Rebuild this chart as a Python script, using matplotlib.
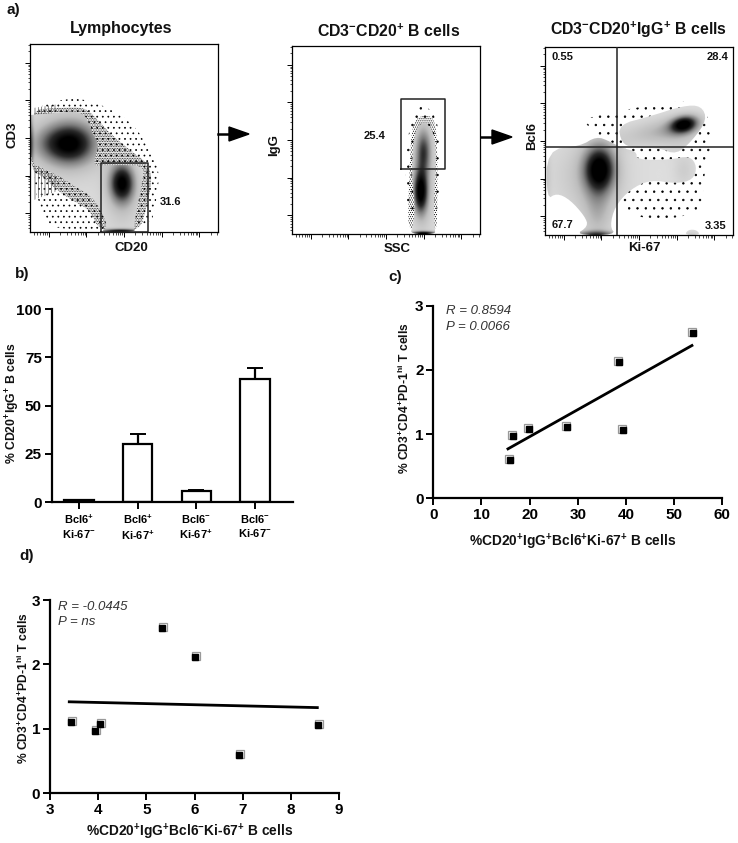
import numpy as np
import matplotlib
matplotlib.use('Agg')
import matplotlib.pyplot as plt
from matplotlib.colors import LinearSegmentedColormap
from matplotlib.patches import Polygon, PathPatch
from matplotlib.path import Path
from matplotlib.transforms import offset_copy

plt.rcParams['font.family'] = ['Liberation Sans', 'DejaVu Sans']
plt.rcParams['mathtext.fontset'] = 'custom'
plt.rcParams['mathtext.rm'] = 'Liberation Sans'
plt.rcParams['mathtext.bf'] = 'Liberation Sans:bold'
plt.rcParams['mathtext.it'] = 'Liberation Sans:italic'
plt.rcParams['hatch.linewidth'] = 0.5

W, H = 738, 843

# Flow populations: x, y, sx, sy, tilt (deg), peak (axes percent)
lymph_pops = [(22, 47, 9, 7.5, 0, 0.8), (10, 47, 9, 7, 0, 0.25), (22, 47, 15, 15, 0, 0.18),
              (49, 26, 4.5, 7, 0, 0.9), (49, 18, 7, 14, 0, 0.18), (48, 0, 8, 1.0, 0, 1.0),
              (0.3, 45, 1.0, 15, 0, 0.4)]
igg_pops = [(70, 44, 2.8, 8, 0, 0.55), (68.5, 22.5, 2.6, 8, 0, 0.95), (70, 30, 4.5, 24, 0, 0.2),
            (70, 0, 5, 0.9, 0, 1.0)]
bcl6_pops = [(29, 35, 5.5, 8, 0, 0.95), (27, 30, 11, 16, 0, 0.22), (12, 32, 14, 12, 0, 0.05),
             (28, 12, 5, 12, 0, 0.2), (27, 0, 8, 1.5, 0, 0.6), (74, 58.6, 5, 3, 12, 0.95),
             (62, 55, 15, 4.5, 10, 0.25), (72, 52, 9, 6, 0, 0.12), (74, 34, 4, 6, 0, 0.12),
             (1, 30, 1.5, 14, 0, 0.12), (78, 0, 3, 1.2, 0, 0.12)]

# Outlines of the grey density and of the dot clouds around it
lymph_grey = [[(0.4, 62.3), (12.4, 63.2), (25.7, 64.4), (30.4, 60.5), (32.7, 53.4), (36.8, 46.3), (34.5, 40),
               (34.2, 35), (38, 35.6), (58.4, 35.6), (60.5, 32.9), (59.8, 26.7), (54.9, 2.7), (56.5, 0), (37, 0),
               (41.6, 2.7), (37.2, 12.5), (31.9, 19.6), (25.7, 23.1), (15.9, 29.4), (7.1, 33.8), (0, 36.5), (0, 62)]]
lymph_near = [(0, 65), (12.4, 65.8), (28.3, 66.7), (34.5, 61.4), (42.5, 52.5), (53.1, 43.6), (62.8, 36.5), (65, 27.6),
              (62, 13.3), (58.4, 0), (37.2, 0), (31.9, 11.6), (23.9, 16), (14.2, 22.2), (7.1, 29.4), (0, 32.9)]
lymph_far = [(15.9, 70.3), (26.5, 71.2), (40.7, 66.7), (54.9, 57.8), (63.7, 43.6), (69, 32.9), (67.3, 16.9),
             (63.7, 0.9), (10.6, 0.9), (7.1, 9.8), (1.8, 24), (1.8, 66)]
lymph_stripes = [[(2, 62), (15, 64), (15, 68), (2, 66)], [(2, 35), (15, 29), (15, 22), (2, 17)]]

igg_grey = [[(70, 59.8), (74.3, 56.2), (76.5, 48.2), (76.5, 32.3), (75.2, 14.5), (76.1, 2.1), (76.1, 0), (62.8, 0),
             (64.2, 3.9), (65.5, 14.5), (63.7, 28.7), (64.2, 46.5), (66, 56.2)]]
igg_near = [(70, 63.3), (75.6, 62), (77.3, 50), (77.3, 11), (76.6, 0), (61.9, 0), (61.9, 18), (62.5, 32.3), (63.2, 50), (65, 60.6)]
igg_far = [(70, 68.6), (76, 64), (79, 50), (78, 5), (62, 5), (60, 30), (62, 55), (65, 66)]

bcl6_grey = [[(0.9, 45.4), (18.6, 47.2), (27.4, 52.5), (34.5, 49.8), (40.7, 46.3), (48.7, 44.5), (48.7, 40), (66.4, 40),
              (77, 42.2), (80.9, 36.5), (78.8, 29.4), (69.9, 27.3), (55.8, 29.4), (45.1, 24.1), (37.2, 15.2), (34.5, 4.6),
              (37.7, 0), (15.9, 0), (23, 4.6), (21.2, 9.9), (13.3, 18.8), (6.2, 22.3), (0.9, 18.8)],
             [(38.9, 58.7), (55.8, 63.1), (73.5, 68.8), (83.2, 68.8), (86.2, 61.3), (78.8, 50.7), (69.9, 42.7), (61, 46.3),
              (46.9, 46.3), (40.7, 48.9)],
             [(74.3, 0), (76.1, 2.8), (80.5, 2.8), (82.7, 0)]]
bcl6_far = [(20, 62), (40, 66), (60, 70), (82, 72), (90, 55), (84, 30), (84, 10), (45, 8), (37, 25), (45, 35), (38, 47), (25, 55)]

# Gates
lymph_gate = (37.5, 63, 0, 36.8)
igg_gate = (58, 81.4, 34.4, 71.6)
bcl6_split = (38.2, 47)

# Panel b
b_labels = ['$\\mathbf{Bcl6^{+}}$\n$\\mathbf{Ki}$-$\\mathbf{67^{-}}$', '$\\mathbf{Bcl6^{+}}$\n$\\mathbf{Ki}$-$\\mathbf{67^{+}}$',
            '$\\mathbf{Bcl6^{-}}$\n$\\mathbf{Ki}$-$\\mathbf{67^{+}}$', '$\\mathbf{Bcl6^{-}}$\n$\\mathbf{Ki}$-$\\mathbf{67^{-}}$']
b_vals = [0.8, 30, 5.5, 64]
b_err = [0.3, 5.5, 0.8, 5.5]

# Panel c
c_x = [16, 16.5, 19.8, 27.7, 38.6, 39.3, 54]
c_y = [0.6, 0.97, 1.08, 1.11, 2.12, 1.06, 2.57]
c_fit_x = [15.5, 53.7]
c_fit_y = [0.77, 2.38]

# Panel d
d_x = [3.43, 3.93, 4.04, 5.32, 6.0, 6.92, 8.56]
d_y = [1.11, 0.97, 1.08, 2.57, 2.12, 0.6, 1.06]
d_fit_x = [3.4, 8.55]
d_fit_y = [1.42, 1.33]

fig = plt.figure(figsize=(W/100, H/100), dpi=100)
grey_map = LinearSegmentedColormap.from_list('flow', ['#dedede', '#bdbdbd', '#7e7e7e', '#2a2a2a', '#000000'])


def px_axes(left, right, top, bottom):
    return fig.add_axes([left/W, 1-bottom/H, (right-left)/W, (bottom-top)/H])


def label(x, y, s, size=8, rotation=0, weight='bold', style='normal', ha='center', color='#111111'):
    fig.text(x/W, 1-y/H, s, fontsize=size, rotation=rotation, fontweight=weight, fontstyle=style,
             ha=ha, va='center', color=color)


def smooth(points, rounds=2):
    # corner cutting so the outlines are not angular
    p = np.array(points, dtype=float)
    for i in range(rounds):
        q = np.roll(p, -1, axis=0)
        p = np.column_stack([0.75*p + 0.25*q, 0.25*p + 0.75*q]).reshape(-1, 2)
    return p


def density(pops):
    xx, yy = np.meshgrid(np.linspace(0, 100, 400), np.linspace(0, 100, 400))
    z = np.zeros_like(xx)
    for cx, cy, sx, sy, tilt, peak in pops:
        a = np.radians(tilt)
        u = (xx-cx)*np.cos(a) + (yy-cy)*np.sin(a)
        v = -(xx-cx)*np.sin(a) + (yy-cy)*np.cos(a)
        z += peak*np.exp(-0.5*(u/sx)**2 - 0.5*(v/sy)**2)
    return z


def flow_panel(left, right, top, bottom, pops, grey, clouds):
    ax = px_axes(left, right, top, bottom)
    for outline, pattern in clouds:
        ax.add_patch(Polygon(smooth(outline), closed=True, facecolor='none', edgecolor='k', hatch=pattern, lw=0, zorder=1))
    verts, codes = [], []
    for outline in grey:
        p = smooth(outline)
        verts += list(p) + [p[0]]
        codes += [Path.MOVETO] + [Path.LINETO]*(len(p)-1) + [Path.CLOSEPOLY]
    clip = PathPatch(Path(verts, codes), facecolor='none', edgecolor='none', transform=ax.transData)
    ax.add_patch(clip)
    im = ax.imshow(density(pops), origin='lower', extent=(0, 100, 0, 100), cmap=grey_map, vmin=0, vmax=1.0,
                   aspect='auto', interpolation='bilinear', zorder=2)
    im.set_clip_path(clip)
    # logicle style ticks, one major per decade
    majors = [10, 30, 50, 70, 90]
    minors = [m - 20 + 20*np.log10(k) for m in majors + [110] for k in range(2, 10)]
    minors = [m for m in minors if 0 < m < 100]
    for axis in (ax.xaxis, ax.yaxis):
        axis.set_ticks(majors)
        axis.set_ticks(minors, minor=True)
        axis.set_ticklabels([])
    ax.tick_params(which='major', length=3.5, width=0.7, direction='out')
    ax.tick_params(which='minor', length=1.8, width=0.5, direction='out')
    ax.set_xlim(0, 100)
    ax.set_ylim(0, 100)
    for s in ax.spines.values():
        s.set_linewidth(0.9)
    return ax


def gate(ax, x0, x1, y0, y1):
    ax.plot([x0, x0, x1, x1, x0], [y0, y1, y1, y0, y0], color='#222222', lw=1.1, zorder=5, clip_on=False)


def arrow(x0, x1, y):
    fig.add_artist(plt.Line2D([x0/W, (x1-18)/W], [1-y/H, 1-y/H], color='k', lw=1.8))
    fig.add_artist(plt.Polygon([[(x1-20)/W, 1-(y-7)/H], [x1/W, 1-y/H], [(x1-20)/W, 1-(y+7)/H]],
                               closed=True, color='k', transform=fig.transFigure))


def prism_axes(ax):
    for s in ('top', 'right'):
        ax.spines[s].set_visible(False)
    for s in ('left', 'bottom'):
        ax.spines[s].set_linewidth(1.6)
    ax.tick_params(width=1.4, length=5, labelsize=11, pad=2)
    for t in ax.get_xticklabels() + ax.get_yticklabels():
        t.set_fontweight('bold')


def scatter_fit(ax, x, y, fit_x, fit_y, off):
    ghost = offset_copy(ax.transData, fig=fig, x=off[0], y=off[1], units='dots')
    ax.plot(x, y, 's', ms=5.6, mfc='white', mec='#999999', mew=0.9, transform=ghost, clip_on=False, zorder=3)
    ax.plot(x, y, 's', ms=5, color='k', clip_on=False, zorder=4)
    ax.plot(fit_x, fit_y, color='k', lw=2, zorder=5)


# a) flow plots
ax1 = flow_panel(30, 218, 44, 232, lymph_pops, lymph_grey,
                 [(lymph_far, '...'), (lymph_near, '..........')])
for strip in lymph_stripes:
    ax1.add_patch(Polygon(strip, closed=True, facecolor='none', edgecolor='#555555', hatch='|||||', lw=0, zorder=1))
gate(ax1, *lymph_gate)

ax2 = flow_panel(292, 480, 46, 234, igg_pops, igg_grey,
                 [(igg_far, '..'), (igg_near, '........')])
gate(ax2, *igg_gate)

ax3 = flow_panel(545, 733, 47, 235, bcl6_pops, bcl6_grey, [(bcl6_far, '..')])
ax3.axvline(bcl6_split[0], color='#222222', lw=1.1, zorder=5)
ax3.axhline(bcl6_split[1], color='#222222', lw=1.1, zorder=5)

arrow(218, 249, 134)
arrow(481, 512, 137)

label(13, 10, 'a)', 11)
label(121, 28, 'Lymphocytes', 11.5)
label(12, 135, 'CD3', 9.5, 90)
label(131, 248, 'CD20', 9.5)
label(171, 202, '31.6', 8)
label(389, 31, '$\\mathbf{CD3^{-}CD20^{+}\\ B\\ cells}$', 11.4)
label(274, 145, 'IgG', 9.5, 90)
label(397, 249, 'SSC', 9.5)
label(375, 136, '25.4', 8)
label(638, 30, '$\\mathbf{CD3^{-}CD20^{+}IgG^{+}\\ B\\ cells}$', 11.4)
label(532, 136, 'Bcl6', 9.5, 90)
label(644, 248, 'Ki-67', 9.5)
label(562, 57, '0.55', 8)
label(718, 57, '28.4', 8)
label(563, 225, '67.7', 8)
label(716, 226, '3.35', 8)

# b) bars
axb = px_axes(51.7, 293, 309.3, 502)
axb.bar(range(4), b_vals, width=0.5, color='white', edgecolor='k', linewidth=1.6, zorder=2)
axb.errorbar(range(4), b_vals, yerr=[[0]*4, b_err], fmt='none', ecolor='k', elinewidth=1.6, capsize=5.5, capthick=1.4, zorder=1)
axb.set_xlim(-0.465, 3.65)
axb.set_ylim(0, 100)
axb.set_yticks([0, 25, 50, 75, 100])
axb.set_xticks(range(4))
axb.set_xticklabels(b_labels, fontsize=8)
prism_axes(axb)
axb.tick_params(axis='x', labelsize=8, length=5, pad=3)
label(22, 274, 'b)', 11)
label(13, 403, '% CD20$^{\\mathbf{+}}$IgG$^{\\mathbf{+}}$ B cells', 8.8, 90)

# c) correlation
axc = px_axes(433.3, 722.3, 305.7, 498.3)
scatter_fit(axc, c_x, c_y, c_fit_x, c_fit_y, (-1, 1))
axc.set_xlim(0, 60)
axc.set_ylim(0, 3)
axc.set_xticks([0, 10, 20, 30, 40, 50, 60])
axc.set_yticks([0, 1, 2, 3])
prism_axes(axc)
label(395, 277, 'c)', 11)
label(446, 311, 'R = 0.8594', 9.5, weight='normal', style='italic', ha='left', color='#333333')
label(446, 327, 'P = 0.0066', 9.5, weight='normal', style='italic', ha='left', color='#333333')
label(404, 398, '% CD3$^{\\mathbf{+}}$CD4$^{\\mathbf{+}}$PD-1$^{\\mathbf{hi}}$ T cells', 8.7, 90)
label(573, 542, '%CD20$^{\\mathbf{+}}$IgG$^{\\mathbf{+}}$Bcl6$^{\\mathbf{+}}$Ki-67$^{\\mathbf{+}}$ B cells', 9.9)

# d) correlation
axd = px_axes(50, 339, 600, 793.3)
scatter_fit(axd, d_x, d_y, d_fit_x, d_fit_y, (1, 1))
axd.set_xlim(3, 9)
axd.set_ylim(0, 3)
axd.set_xticks([3, 4, 5, 6, 7, 8, 9])
axd.set_yticks([0, 1, 2, 3])
prism_axes(axd)
label(27, 556, 'd)', 11)
label(58, 607, 'R = -0.0445', 9.5, weight='normal', style='italic', ha='left', color='#333333')
label(58, 622, 'P = ns', 9.5, weight='normal', style='italic', ha='left', color='#333333')
label(23, 688, '% CD3$^{\\mathbf{+}}$CD4$^{\\mathbf{+}}$PD-1$^{\\mathbf{hi}}$ T cells', 8.7, 90)
label(190, 832, '%CD20$^{\\mathbf{+}}$IgG$^{\\mathbf{+}}$Bcl6$^{\\mathbf{-}}$Ki-67$^{\\mathbf{+}}$ B cells', 9.9)

fig.savefig('out.png', dpi=100)
